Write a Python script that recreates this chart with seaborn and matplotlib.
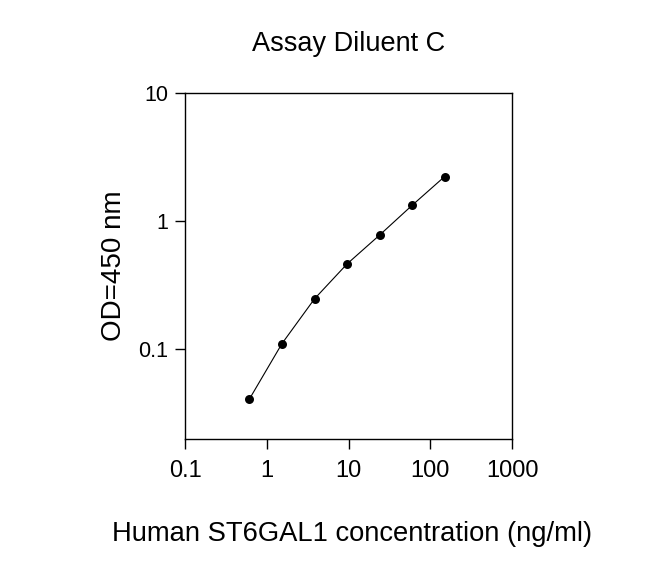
import matplotlib
matplotlib.use('Agg')
import matplotlib.pyplot as plt
import seaborn as sns
import pandas as pd

# ELISA standard curve
concentration = [0.614, 1.536, 3.84, 9.6, 24, 60, 150]
od450 = [0.041, 0.111, 0.248, 0.464, 0.779, 1.33, 2.23]

x_ticks = [0.1, 1, 10, 100, 1000]
x_ticklabels = ['0.1', '1', '10', '100', '1000']
y_ticks = [0.1, 1, 10]
y_ticklabels = ['0.1', '1', '10']

sns.set_theme(style='ticks')
plt.rcParams['font.family'] = ['Liberation Sans', 'DejaVu Sans']
plt.rcParams['text.color'] = 'black'
plt.rcParams['axes.labelcolor'] = 'black'
plt.rcParams['xtick.color'] = 'black'
plt.rcParams['ytick.color'] = 'black'

df = pd.DataFrame({'conc': concentration, 'od': od450})

fig = plt.figure(figsize=(6.71, 5.79), dpi=100)
ax = fig.add_axes([185 / 671, 1 - 439 / 579, 327 / 671, 346 / 579])

sns.lineplot(data=df, x='conc', y='od', ax=ax, color='black', linewidth=0.8)
sns.scatterplot(data=df, x='conc', y='od', ax=ax, color='black', s=42,
                edgecolor='black', linewidth=0, zorder=3)

ax.set_xscale('log')
ax.set_yscale('log')
ax.set_xlim(0.1, 1000)
ax.set_ylim(0.02, 10)
ax.set_xticks(x_ticks)
ax.set_xticklabels(x_ticklabels)
ax.set_yticks(y_ticks)
ax.set_yticklabels(y_ticklabels)
ax.minorticks_off()
ax.tick_params(axis='x', labelsize=17, length=7, width=1, pad=8)
ax.tick_params(axis='y', labelsize=15.5, length=7, width=1, pad=5)

for s in ax.spines.values():
    s.set_color('black')
    s.set_linewidth(1)

ax.set_xlabel('Human ST6GAL1 concentration (ng/ml)', fontsize=19.7, labelpad=28)
ax.xaxis.label.set_x(0.512)
ax.set_ylabel('OD=450 nm', fontsize=20, labelpad=8)
ax.set_title('Assay Diluent C', fontsize=19.5, pad=30)

fig.savefig('out.png', dpi=100)
